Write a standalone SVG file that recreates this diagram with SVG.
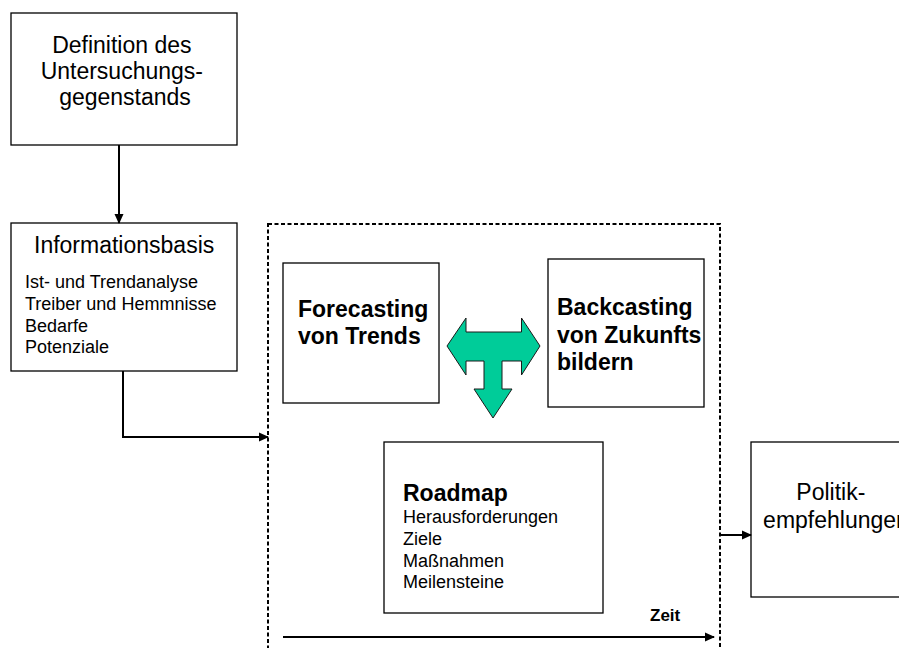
<svg xmlns="http://www.w3.org/2000/svg" width="899" height="648" viewBox="0 0 899 648">
  <style>
    .box { fill: #ffffff; stroke: #000000; stroke-width: 1.3; }
    .t { font-family: "Liberation Sans", Arial, sans-serif; fill: #000000; }
    .big { font-size: 23px; }
    .small { font-size: 18px; }
    .bold { font-weight: bold; }
    .conn { fill: none; stroke: #000000; stroke-width: 2; }
    .frame { fill: none; stroke: #000000; stroke-width: 2; stroke-dasharray: 4 2.5; }
  </style>
  <defs>
    <marker id="arrow" markerWidth="10" markerHeight="10" refX="9" refY="5" orient="auto" markerUnits="userSpaceOnUse">
      <path d="M0,0.5 L10,5 L0,9.5 Z" fill="#000000"/>
    </marker>
  </defs>

  <rect width="899" height="648" fill="#ffffff"/>

  <!-- dashed frame around the forecasting / backcasting process -->
  <rect class="frame" x="268" y="224" width="452" height="440"/>

  <g id="definition">
    <rect class="box" x="11" y="13" width="226" height="132"/>
    <text class="t big" text-anchor="middle">
      <tspan x="125" y="53">Definition des</tspan>
      <tspan x="125" y="79">Untersuchungs-</tspan>
      <tspan x="125" y="105">gegenstands</tspan>
    </text>
  </g>

  <g id="informationsbasis">
    <rect class="box" x="11" y="223" width="226" height="148"/>
    <text class="t big" x="34" y="253">Informationsbasis</text>
    <text class="t small">
      <tspan x="25" y="288">Ist- und Trendanalyse</tspan>
      <tspan x="25" y="310">Treiber und Hemmnisse</tspan>
      <tspan x="25" y="332">Bedarfe</tspan>
      <tspan x="25" y="353">Potenziale</tspan>
    </text>
  </g>

  <g id="forecasting">
    <rect class="box" x="283" y="263" width="156" height="140"/>
    <text class="t big bold">
      <tspan x="298" y="317">Forecasting</tspan>
      <tspan x="298" y="344">von Trends</tspan>
    </text>
  </g>

  <g id="backcasting">
    <rect class="box" x="548" y="259" width="156" height="148"/>
    <text class="t big bold">
      <tspan x="557" y="315">Backcasting</tspan>
      <tspan x="557" y="343">von Zukunfts</tspan>
      <tspan x="557" y="370">bildern</tspan>
    </text>
  </g>

  <g id="verknuepfung">
    <path d="M447,346 L466,318 L466,332 L521.5,332 L521.5,318 L540,346 L521.5,375 L521.5,361 L502,361 L502,389 L512,389 L493,418 L474,389 L484,389 L484,361 L466,361 L466,375 Z"
          fill="#00cc99" stroke="#1a1a1a" stroke-width="1"/>
  </g>

  <g id="roadmap">
    <rect class="box" x="384" y="442" width="219" height="171"/>
    <text class="t big bold" x="403" y="501">Roadmap</text>
    <text class="t small">
      <tspan x="403" y="523">Herausforderungen</tspan>
      <tspan x="403" y="545">Ziele</tspan>
      <tspan x="403" y="567">Maßnahmen</tspan>
      <tspan x="403" y="588">Meilensteine</tspan>
    </text>
  </g>

  <g id="politik">
    <rect class="box" x="751" y="442" width="170" height="155"/>
    <text class="t big" text-anchor="middle">
      <tspan x="834" y="500">Politik-</tspan>
      <tspan x="836" y="528">empfehlungen</tspan>
    </text>
  </g>

  <g id="zeit">
    <text class="t bold" font-size="17" x="650" y="621">Zeit</text>
  </g>

  <g id="connectors">
    <line class="conn" x1="119" y1="145" x2="119" y2="223" marker-end="url(#arrow)"/>
    <polyline class="conn" points="123,371 123,437 268,437" marker-end="url(#arrow)"/>
    <line class="conn" x1="720" y1="535" x2="751" y2="535" marker-end="url(#arrow)"/>
    <line class="conn" x1="283" y1="637" x2="714" y2="637" marker-end="url(#arrow)"/>
  </g>
</svg>
